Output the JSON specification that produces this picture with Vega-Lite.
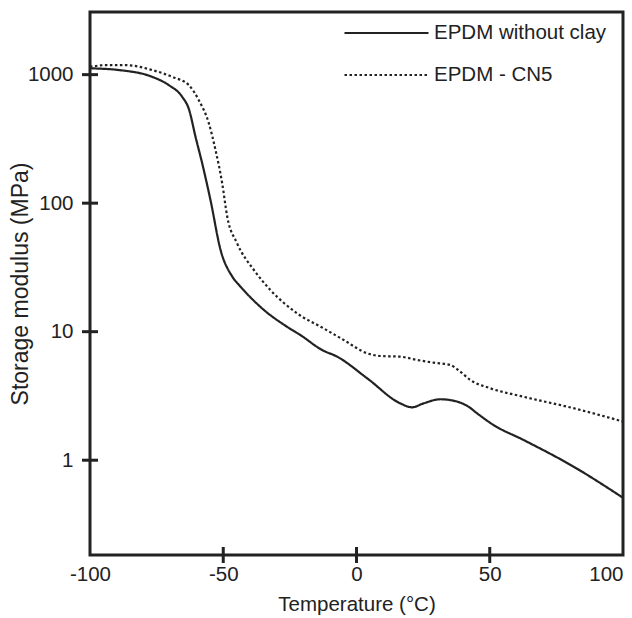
{
  "$schema": "https://vega.github.io/schema/vega-lite/v6.json",
  "width": 533,
  "height": 543,
  "autosize": {"type": "none"},
  "padding": {"left": 90, "top": 12, "right": 9, "bottom": 63},
  "background": "white",
  "config": {
    "view": {"stroke": "#222", "strokeWidth": 3},
    "font": "Liberation Sans",
    "axis": {
      "grid": false,
      "domain": false,
      "ticks": false,
      "labelColor": "#222",
      "labelFontSize": 20.5,
      "labelFont": "Liberation Sans",
      "labelFlush": false,
      "labelOverlap": false,
      "labelBound": false,
      "titleColor": "#222",
      "titleFont": "Liberation Sans",
      "titleFontWeight": "normal"
    }
  },
  "datasets": {
    "curves": [
      {"series": "EPDM without clay", "T": -100, "E": 1120},
      {"series": "EPDM without clay", "T": -89, "E": 1085},
      {"series": "EPDM without clay", "T": -76.6, "E": 960},
      {"series": "EPDM without clay", "T": -70.4, "E": 828},
      {"series": "EPDM without clay", "T": -65.4, "E": 672},
      {"series": "EPDM without clay", "T": -62.9, "E": 540},
      {"series": "EPDM without clay", "T": -60.4, "E": 328},
      {"series": "EPDM without clay", "T": -57.9, "E": 204},
      {"series": "EPDM without clay", "T": -54.8, "E": 106},
      {"series": "EPDM without clay", "T": -51, "E": 43.2},
      {"series": "EPDM without clay", "T": -46.6, "E": 26.8},
      {"series": "EPDM without clay", "T": -43.5, "E": 22.4},
      {"series": "EPDM without clay", "T": -34.8, "E": 14.8},
      {"series": "EPDM without clay", "T": -26, "E": 10.9},
      {"series": "EPDM without clay", "T": -21, "E": 9.4},
      {"series": "EPDM without clay", "T": -12.9, "E": 7.2},
      {"series": "EPDM without clay", "T": -7.3, "E": 6.4},
      {"series": "EPDM without clay", "T": 4, "E": 4.34},
      {"series": "EPDM without clay", "T": 16.4, "E": 2.77},
      {"series": "EPDM without clay", "T": 20.8, "E": 2.58},
      {"series": "EPDM without clay", "T": 25.2, "E": 2.77},
      {"series": "EPDM without clay", "T": 31.4, "E": 2.98},
      {"series": "EPDM without clay", "T": 37.7, "E": 2.86},
      {"series": "EPDM without clay", "T": 42, "E": 2.61},
      {"series": "EPDM without clay", "T": 45.2, "E": 2.32},
      {"series": "EPDM without clay", "T": 51.4, "E": 1.88},
      {"series": "EPDM without clay", "T": 62.6, "E": 1.44},
      {"series": "EPDM without clay", "T": 81.4, "E": 0.892},
      {"series": "EPDM without clay", "T": 100, "E": 0.51},
      {"series": "EPDM - CN5", "T": -100, "E": 1150},
      {"series": "EPDM - CN5", "T": -94.1, "E": 1186},
      {"series": "EPDM - CN5", "T": -86.6, "E": 1186},
      {"series": "EPDM - CN5", "T": -76.6, "E": 1084},
      {"series": "EPDM - CN5", "T": -69.1, "E": 961},
      {"series": "EPDM - CN5", "T": -62.9, "E": 828},
      {"series": "EPDM - CN5", "T": -59.2, "E": 634},
      {"series": "EPDM - CN5", "T": -55.4, "E": 418},
      {"series": "EPDM - CN5", "T": -52.9, "E": 259},
      {"series": "EPDM - CN5", "T": -50.4, "E": 143},
      {"series": "EPDM - CN5", "T": -48.5, "E": 78.4},
      {"series": "EPDM - CN5", "T": -44.8, "E": 48.7},
      {"series": "EPDM - CN5", "T": -38.5, "E": 30.2},
      {"series": "EPDM - CN5", "T": -32.3, "E": 21.1},
      {"series": "EPDM - CN5", "T": -22.3, "E": 13.9},
      {"series": "EPDM - CN5", "T": -12.3, "E": 10.6},
      {"series": "EPDM - CN5", "T": -4.8, "E": 8.62},
      {"series": "EPDM - CN5", "T": 4, "E": 6.79},
      {"series": "EPDM - CN5", "T": 8.9, "E": 6.47},
      {"series": "EPDM - CN5", "T": 16.4, "E": 6.39},
      {"series": "EPDM - CN5", "T": 22.7, "E": 6.03},
      {"series": "EPDM - CN5", "T": 28.9, "E": 5.74},
      {"series": "EPDM - CN5", "T": 35.2, "E": 5.51},
      {"series": "EPDM - CN5", "T": 38.9, "E": 4.89},
      {"series": "EPDM - CN5", "T": 42.7, "E": 4.21},
      {"series": "EPDM - CN5", "T": 50.2, "E": 3.63},
      {"series": "EPDM - CN5", "T": 62.6, "E": 3.12},
      {"series": "EPDM - CN5", "T": 81.4, "E": 2.54},
      {"series": "EPDM - CN5", "T": 100, "E": 2.0}
    ],
    "xticks": [{"T": -50}, {"T": 0}, {"T": 50}],
    "yticks": [{"E": 1}, {"E": 10}, {"E": 100}, {"E": 1000}]
  },
  "layer": [
    {
      "data": {"name": "curves"},
      "mark": {"type": "line", "interpolate": "monotone", "color": "#222", "strokeWidth": 2.2},
      "encoding": {
        "x": {
          "field": "T",
          "type": "quantitative",
          "scale": {"domain": [-100, 100], "nice": false, "zero": false},
          "axis": {
            "values": [-100, -50, 0, 50, 100],
            "labelExpr": "replace(datum.label, '\u2212', '-')",
            "labelAlign": {"condition": {"test": "datum.value == 100", "value": "right"}, "value": "center"},
            "labelPadding": 9,
            "title": "Temperature (°C)",
            "titleFontSize": 20.5,
            "titleBaseline": "alphabetic",
            "titleY": 55
          }
        },
        "y": {
          "field": "E",
          "type": "quantitative",
          "scale": {"type": "log", "domain": [0.183, 3072], "nice": false},
          "axis": {
            "values": [1, 10, 100, 1000],
            "format": "d",
            "labelPadding": 17,
            "title": "Storage modulus (MPa)",
            "titleFontSize": 23,
            "titleBaseline": "alphabetic",
            "titleX": -63
          }
        },
        "strokeDash": {
          "field": "series",
          "type": "nominal",
          "scale": {"domain": ["EPDM without clay", "EPDM - CN5"], "range": [[1, 0], [2.5, 2.5]]},
          "legend": {
            "orient": "none",
            "legendX": 253,
            "legendY": 10,
            "title": null,
            "padding": 0,
            "clipHeight": 22,
            "rowPadding": 20,
            "symbolType": "stroke",
            "symbolSize": 7056,
            "symbolStrokeWidth": 2.2,
            "symbolStrokeColor": "#222",
            "labelFontSize": 20.5,
            "labelColor": "#222",
            "labelFont": "Liberation Sans",
            "labelOffset": 4,
            "labelLimit": 0
          }
        }
      }
    },
    {
      "data": {"name": "xticks"},
      "mark": {"type": "tick", "orient": "vertical", "size": 16, "thickness": 3, "color": "#222", "opacity": 1},
      "encoding": {
        "x": {"field": "T", "type": "quantitative"},
        "y": {"datum": 0.183, "type": "quantitative"}
      }
    },
    {
      "data": {"name": "yticks"},
      "mark": {"type": "tick", "orient": "horizontal", "size": 16, "thickness": 3, "color": "#222", "opacity": 1},
      "encoding": {
        "y": {"field": "E", "type": "quantitative"},
        "x": {"datum": -100, "type": "quantitative"}
      }
    }
  ]
}
